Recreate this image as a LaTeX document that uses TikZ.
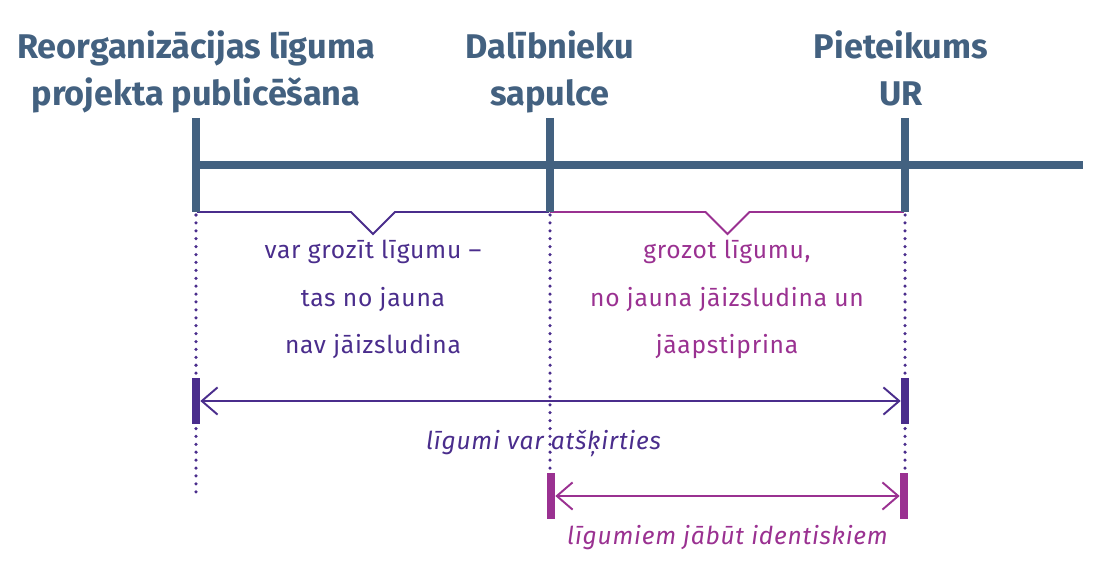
\documentclass[tikz,border=0pt]{standalone}
\usepackage{fontspec}
\setmainfont{Fira Sans}
\usepackage{xcolor}
\definecolor{cSlate}{HTML}{436180}
\definecolor{cIndigo}{HTML}{4A2D8C}
\definecolor{cMagenta}{HTML}{9A3191}
\usepackage{tikz}
\usetikzlibrary{positioning,arrows.meta,calc}
\tikzset{
  axis-line/.style={draw=cSlate,line width=4.5pt},
  node-head/.style={text=cSlate,align=center,inner sep=0pt,
    font=\fontsize{19.5pt}{27.2pt}\selectfont\bfseries},
  node-note/.style={align=center,inner sep=0pt,
    font=\fontsize{14pt}{27.2pt}\selectfont\addfontfeatures{LetterSpace=3}},
  node-span/.style={inner sep=0pt,
    font=\fontsize{14pt}{16pt}\selectfont\itshape\addfontfeatures{LetterSpace=3}},
  node-bar/.style={inner sep=0pt,minimum width=4.5pt,minimum height=26.6pt},
  brace-line/.style={line width=1.1pt},
  dot-line/.style={draw=cIndigo,line width=2pt,line cap=round,
    dash pattern=on 0pt off 4.5pt},
  arrow-span/.style={{Straight Barb[length=9pt,width=15.5pt]}-{Straight Barb[length=9pt,width=15.5pt]},
    line width=1.1pt},
}
\begin{document}
\begin{tikzpicture}[x=0.2mm,y=-0.2mm]
  \useasboundingbox (0,0) rectangle (1100,580);
  \coordinate (tA) at (196,165);
  \coordinate (tB) at (550,165);
  \coordinate (tC) at (905,165);
  \coordinate (axEnd) at (1083,165);
  % palīglīnijas
  \draw[dot-line] ($(tA)+(0,50)$) -- ($(tA)+(0,332)$);
  \draw[dot-line] ($(tB)+(0,50)$) -- ($(tB)+(0,307)$);
  \draw[dot-line] ($(tC)+(0,50)$) -- ($(tC)+(0,307)$);
  % iekavas
  \draw[brace-line,cIndigo] ($(tA)+(2,25)$) |- ($(tA)!.5!(tB)+(-22,47)$)
    -- ++(22,22) -- ++(22,-22) -- ($(tB)+(-1,47)$);
  \draw[brace-line,cMagenta] ($(tB)+(1,25)$) |- ($(tB)!.5!(tC)+(-22,47)$)
    -- ++(22,22) -- ++(22,-22) -| ($(tC)+(-2,25)$);
  % laika ass
  \draw[axis-line] (tA) -- (axEnd);
  \foreach \t in {tA,tB,tC}
    \draw[axis-line] ($(\t)+(0,-47)$) -- ($(\t)+(0,47)$);
  \node[node-head,anchor=base] (hA) at (196,106) {Reorganizācijas līguma\\projekta publicēšana};
  \node[node-head,anchor=base] (hB) at (550,106) {Dalībnieku\\sapulce};
  \node[node-head,anchor=base] (hC) at (901,106) {Pieteikums\\UR};
  \node[node-note,text=cIndigo,anchor=base] (nA) at (373,354)
    {var grozīt līgumu –\\tas no jauna\\nav jāizsludina};
  \node[node-note,text=cMagenta,anchor=base] (nB) at (727,354)
    {grozot līgumu,\\no jauna jāizsludina un\\jāapstiprina};
  % termiņu bultas
  \node[node-bar,fill=cIndigo] (bA1) at (196,401) {};
  \node[node-bar,fill=cIndigo] (bA2) at (905,401) {};
  \node[node-bar,fill=cMagenta] (bB1) at (551,496) {};
  \node[node-bar,fill=cMagenta] (bB2) at (904,496) {};
  \draw[arrow-span,cIndigo] (bA1.east) -- node[node-span,below=16pt,xshift=-1.4mm] (lA) {līgumi var atšķirties} (bA2.west);
  \draw[arrow-span,cMagenta] (bB1.east) -- node[node-span,below=16pt] (lB) {līgumiem jābūt identiskiem} (bB2.west);
\end{tikzpicture}
\end{document}
